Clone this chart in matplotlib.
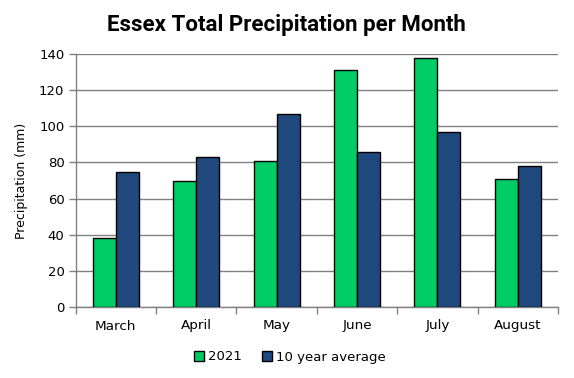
import matplotlib
matplotlib.use("Agg")
import matplotlib.pyplot as plt
import numpy as np

months = ["March", "April", "May", "June", "July", "August"]
vals_2021 = [38, 70, 81, 131, 138, 71]
vals_avg = [74.5, 83, 107, 86, 97, 78]
yticks = [0, 20, 40, 60, 80, 100, 120, 140]

green = "#00CC66"
blue = "#1F497D"
grid_c = "#808080"

fig = plt.figure(figsize=(5.74, 3.78), dpi=100)
ax = fig.add_axes([75.5/574, 1 - 307/378, (558 - 75.5)/574, (307 - 54)/378])

x = np.arange(len(months))
w = 0.286
ax.bar(x - w/2, vals_2021, w, color=green, edgecolor="black", linewidth=1.0, label="2021", zorder=3)
ax.bar(x + w/2, vals_avg, w, color=blue, edgecolor="black", linewidth=1.0, label="10 year average", zorder=3)

ax.set_xlim(-0.5, len(months) - 0.5)
ax.set_ylim(0, 140)
ax.set_yticks(yticks)
ax.set_yticklabels([str(v) for v in yticks], fontsize=9.5)
ax.yaxis.grid(True, color=grid_c, linewidth=1.0, zorder=0)
ax.set_axisbelow(True)

ax.set_xticks(x)
ax.set_xticklabels(months, fontsize=9.7)
ax.tick_params(axis="x", length=0, pad=9)
ax.set_xticks(np.arange(len(months) + 1) - 0.5, minor=True)
ax.tick_params(axis="x", which="minor", length=5, color=grid_c, width=1)
ax.tick_params(axis="y", length=5, color=grid_c, width=1, pad=3)

for s in ["top", "right"]:
    ax.spines[s].set_visible(False)
for s in ["left", "bottom"]:
    ax.spines[s].set_color(grid_c)
    ax.spines[s].set_linewidth(1.0)

ax.set_ylabel("Precipitation (mm)", fontsize=9, labelpad=8)

fig.text(286/574, 1 - 24.5/378, "Essex Total Precipitation per Month", ha="center", va="center",
         fontsize=16, fontweight="bold", family=["Roboto", "DejaVu Sans"])

leg = fig.legend(loc="center", bbox_to_anchor=(0.505, 1 - 357/378), ncol=2, frameon=False,
                 fontsize=9.5, handlelength=0.75, handleheight=0.75, handletextpad=0.35,
                 columnspacing=1.5)

fig.savefig("out.png", dpi=100)
